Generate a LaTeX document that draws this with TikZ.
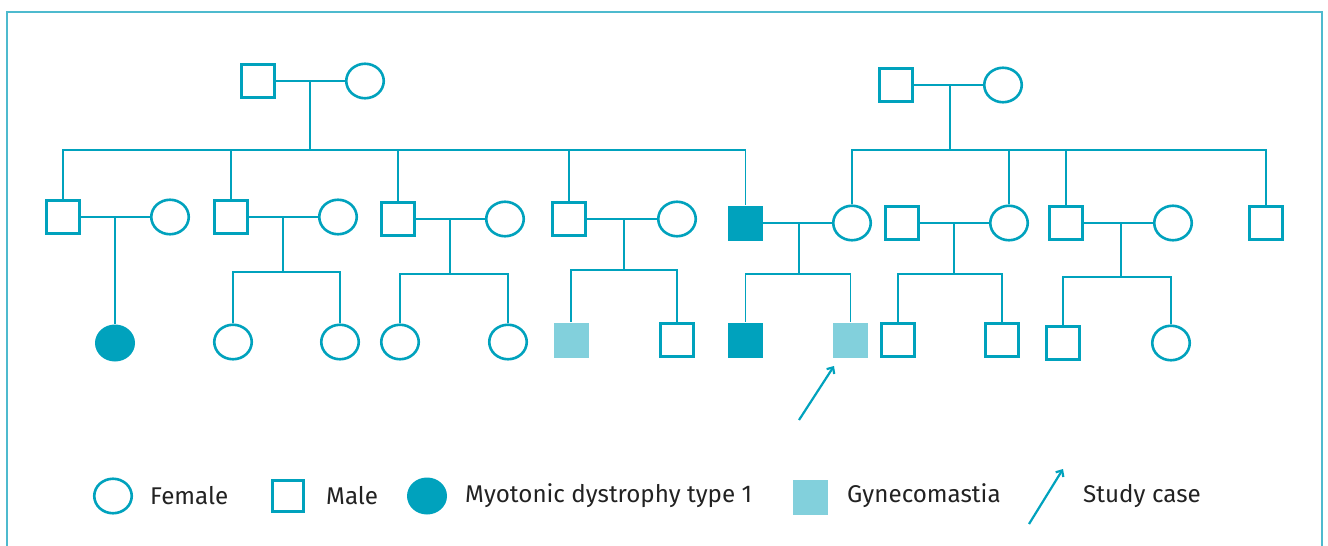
\documentclass[tikz,border=0pt]{standalone}
\usepackage{fontspec}
\setmainfont{Fira Sans}
\usetikzlibrary{shapes.geometric,arrows.meta}
\definecolor{tc}{HTML}{00A2BD}
\definecolor{bc}{HTML}{4DBACE}
\definecolor{lc}{HTML}{82D0DC}
\definecolor{txt}{HTML}{222222}
\tikzset{
  male/.style={rectangle,draw=tc,line width=2.6pt,minimum size=32.5pt,inner sep=0pt,fill=white},
  female/.style={ellipse,draw=tc,line width=2.6pt,minimum width=37.5pt,minimum height=34.5pt,inner sep=0pt,fill=white},
  affm/.style={rectangle,fill=tc,draw=none,minimum size=35pt,inner sep=0pt},
  afff/.style={ellipse,fill=tc,draw=none,minimum width=40pt,minimum height=37pt,inner sep=0pt},
  gynm/.style={rectangle,fill=lc,draw=none,minimum size=35pt,inner sep=0pt},
  link/.style={draw=tc,line width=1.5pt},
  casearrow/.style={draw=tc,line width=2.2pt,-{Straight Barb[length=5pt,width=9pt,line width=2.2pt]}},
  legtext/.style={anchor=west,text=txt,font=\fontsize{24.2}{27}\selectfont,inner sep=0pt}
}
\begin{document}
\begin{tikzpicture}[x=1pt,y=-1pt]
\useasboundingbox (0,0) rectangle (1328,546);
\draw[bc,line width=2pt] (7,12) rectangle (1322,570);

% ---------- Generation I
\node[male] (I1) at (258,81) {};
\node[female] (I2) at (365,81) {};
\node[male] (I3) at (896,85) {};
\node[female] (I4) at (1003,85) {};
% ---------- Generation II
\node[male] (II1) at (63,217) {};
\node[female] (II2) at (170,217) {};
\node[male] (II3) at (231,217) {};
\node[female] (II4) at (338,217) {};
\node[male] (II5) at (398,219) {};
\node[female] (II6) at (505,219) {};
\node[male] (II7) at (569,219) {};
\node[female] (II8) at (677,219) {};
\node[affm] (II9) at (745.5,223) {};
\node[female] (II10) at (852,223) {};
\node[male] (II12) at (902,223) {};
\node[female] (II11) at (1009,223) {};
\node[male] (II13) at (1066,223) {};
\node[female] (II14) at (1173,223) {};
\node[male] (II15) at (1266,223) {};
% ---------- Generation III
\node[afff] (III1) at (115,343) {};
\node[female] (III2) at (233,342) {};
\node[female] (III3) at (340,342) {};
\node[female] (III4) at (400,342) {};
\node[female] (III5) at (508,342) {};
\node[gynm] (III6) at (571,340) {};
\node[male] (III7) at (677,340) {};
\node[affm] (III8) at (745.5,340) {};
\node[gynm] (III9) at (850.5,340) {};
\node[male] (III10) at (898,340) {};
\node[male] (III11) at (1002,340) {};
\node[male] (III12) at (1063,343) {};
\node[female] (III13) at (1171,343) {};

% junction coordinates
\coordinate (m1) at (310,81);   \coordinate (s1) at (310,150);
\coordinate (m2) at (950,85);   \coordinate (s2) at (950,150);
\coordinate (m3) at (115,217);
\coordinate (m4) at (283,217);  \coordinate (s4) at (283,272);
\coordinate (m5) at (450,219);  \coordinate (s5) at (450,274);
\coordinate (m6) at (624,219);  \coordinate (s6) at (624,270);
\coordinate (m7) at (799,223);  \coordinate (s7) at (799,274);
\coordinate (m8) at (954,223);  \coordinate (s8) at (954,274);
\coordinate (m9) at (1121,223); \coordinate (s9) at (1121,277);

% marriage lines
\draw[link] (I1) -- (I2);
\draw[link] (I3) -- (I4);
\draw[link] (II1) -- (II2);
\draw[link] (II3) -- (II4);
\draw[link] (II5) -- (II6);
\draw[link] (II7) -- (II8);
\draw[link] (II9) -- (II10);
\draw[link] (II12) -- (II11);
\draw[link] (II13) -- (II14);
% descent lines
\draw[link] (m1) -- (s1);
\foreach \c in {II1,II3,II5,II7,II9} \draw[link] (s1) -| (\c);
\draw[link] (m2) -- (s2);
\foreach \c in {II10,II11,II13,II15} \draw[link] (s2) -| (\c);
\draw[link] (m3) -- (III1);
\draw[link] (m4) -- (s4);
\foreach \c in {III2,III3} \draw[link] (s4) -| (\c);
\draw[link] (m5) -- (s5);
\foreach \c in {III4,III5} \draw[link] (s5) -| (\c);
\draw[link] (m6) -- (s6);
\foreach \c in {III6,III7} \draw[link] (s6) -| (\c);
\draw[link] (m7) -- (s7);
\foreach \c in {III8,III9} \draw[link] (s7) -| (\c);
\draw[link] (m8) -- (s8);
\foreach \c in {III10,III11} \draw[link] (s8) -| (\c);
\draw[link] (m9) -- (s9);
\foreach \c in {III12,III13} \draw[link] (s9) -| (\c);

% study case arrow
\coordinate (a0) at (799,420);
\coordinate (a1) at (834,366);
\draw[casearrow] (a0) -- (a1);

% ---------- Legend
\node[female] (lf) at (113,496) {};
\node[legtext] (lft) at (150,496) {Female};
\node[male,minimum size=31pt] (lm) at (288,496) {};
\node[legtext] (lmt) at (326,496) {Male};
\node[afff] (la) at (427,496) {};
\node[legtext] (lat) at (465,496) {Myotonic dystrophy type 1};
\node[gynm] (lg) at (810,497) {};
\node[legtext] (lgt) at (847,496) {Gynecomastia};
\coordinate (la0) at (1029,524);
\coordinate (la1) at (1063,469);
\draw[casearrow] (la0) -- (la1);
\node[legtext] (lct) at (1083,496) {Study case};
\end{tikzpicture}
\end{document}
